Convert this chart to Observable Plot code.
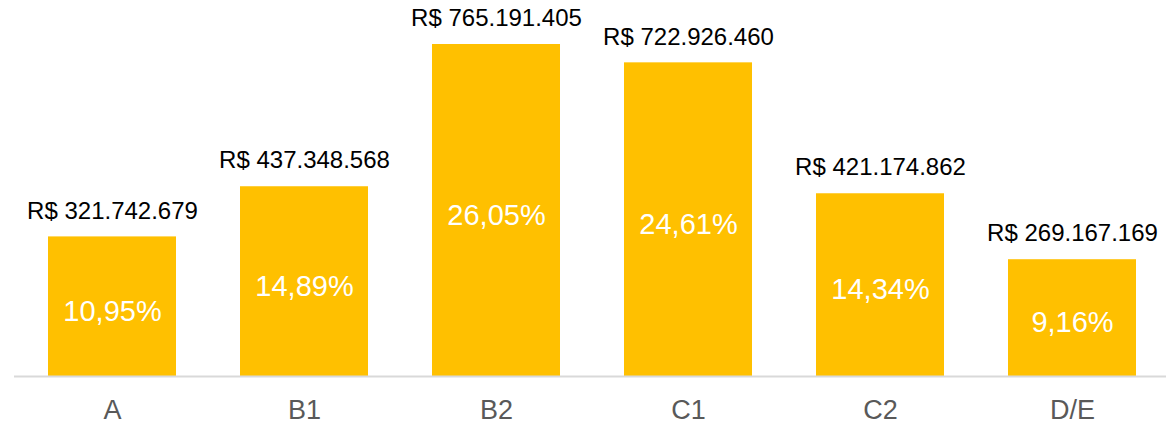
<!DOCTYPE html>
<html>
<head>
<meta charset="utf-8">
<script src="https://cdn.jsdelivr.net/npm/d3@7"></script>
<script src="https://cdn.jsdelivr.net/npm/@observablehq/plot@0.6"></script>
<style>
  html, body { margin: 0; padding: 0; background: #fff; }
  svg { display: block; }
</style>
</head>
<body>
<div id="chart"></div>
<script>
const categories = ["A", "B1", "B2", "C1", "C2", "D/E"];
const values = [321742679, 437348568, 765191405, 722926460, 421174862, 269167169];
const valueLabels = ["R$ 321.742.679", "R$ 437.348.568", "R$ 765.191.405", "R$ 722.926.460", "R$ 421.174.862", "R$ 269.167.169"];
const percentLabels = ["10,95%", "14,89%", "26,05%", "24,61%", "14,34%", "9,16%"];

const data = categories.map((c, i) => ({
  cat: c, value: values[i], label: valueLabels[i], pct: percentLabels[i]
}));

const chart = Plot.plot({
  width: 1166,
  height: 425,
  marginTop: 44,
  marginBottom: 49,
  marginLeft: 14,
  marginRight: 0,
  style: { fontFamily: "'Liberation Sans', Arial, sans-serif", background: "#fff" },
  x: { domain: categories, range: [14, 1171], paddingInner: 0.332, paddingOuter: 0.166, align: 0.5 },
  y: { domain: [0, d3.max(values)], axis: null },
  marks: [
    Plot.barY(data, { x: "cat", y: "value", fill: "#FFC000" }),
    Plot.ruleY([0], { stroke: "#d9d9d9", strokeWidth: 2 }),
    Plot.text(data, { x: "cat", y: "value", text: "label", dy: -26, fontSize: 24, fill: "#000" }),
    Plot.text(data, { x: "cat", y: d => d.value / 2, text: "pct", dy: 5, fontSize: 29, fill: "#fff" }),
    Plot.axisX({ tickSize: 0, tickPadding: 23, fontSize: 27, fill: "#595959", label: null })
  ]
});
document.getElementById("chart").appendChild(chart);
</script>
</body>
</html>
